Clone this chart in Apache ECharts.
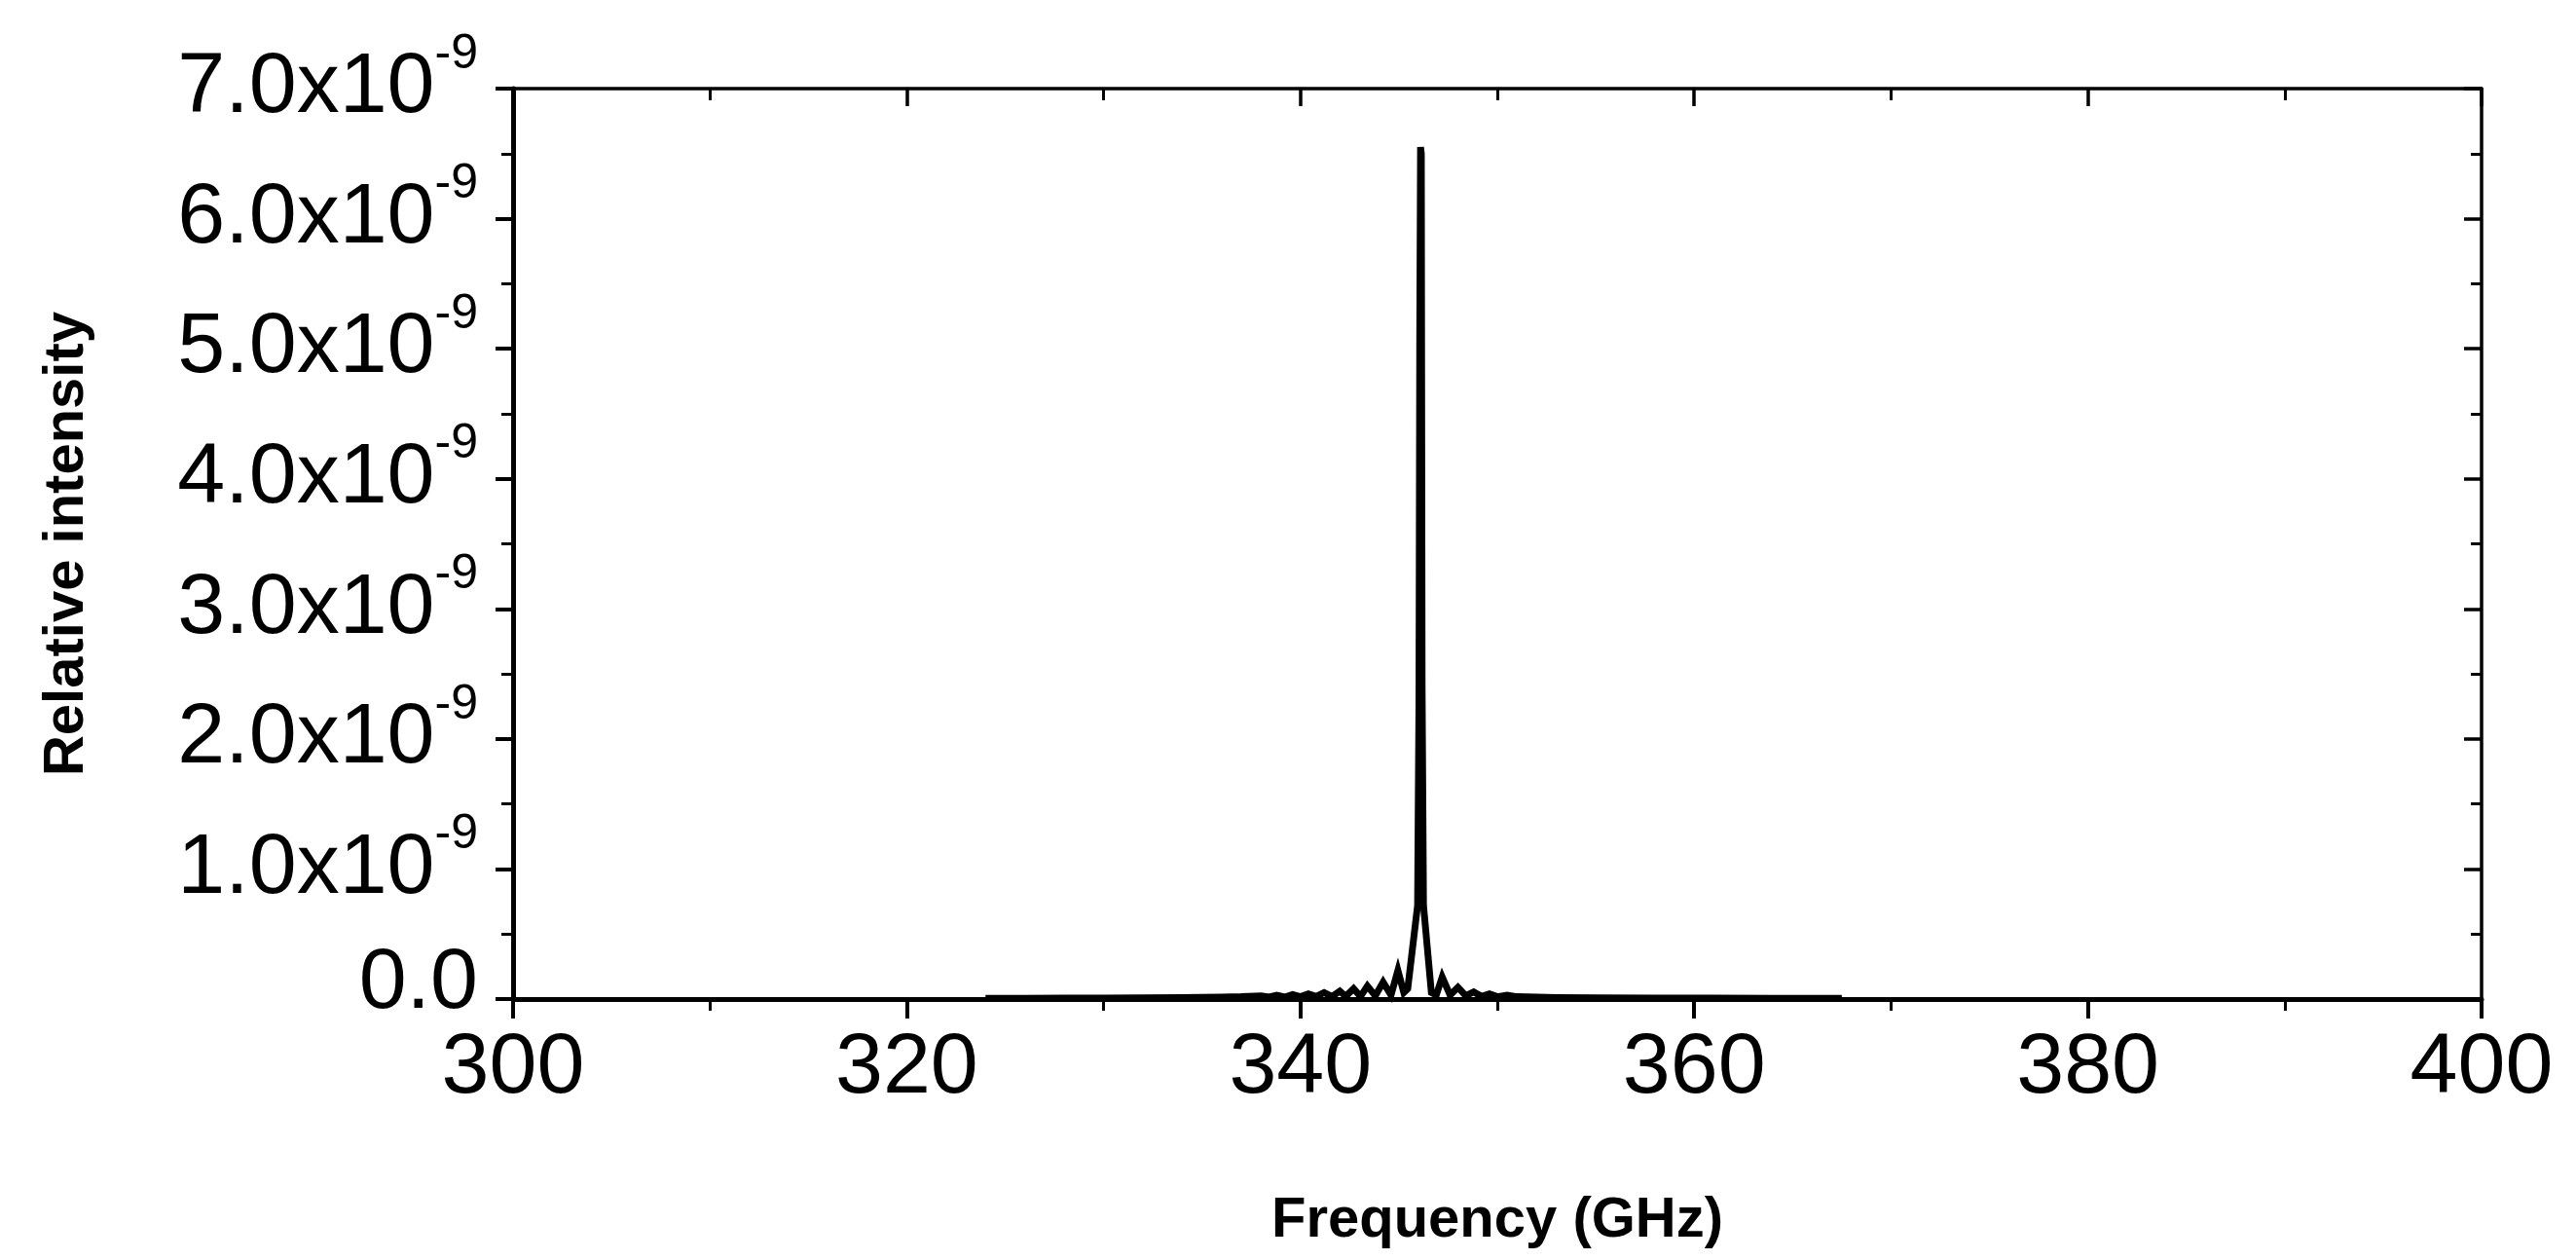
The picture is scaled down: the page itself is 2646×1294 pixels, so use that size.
<!DOCTYPE html>
<html>
<head>
<meta charset="utf-8">
<script src="https://cdn.jsdelivr.net/npm/echarts@6/dist/echarts.min.js"></script>
<style>
html,body{margin:0;padding:0;background:#fff;}
#chart{width:2646px;height:1294px;}
</style>
</head>
<body>
<div id="chart"></div>
<script>
// Frequency (GHz)
const frequency = [
  324.0, 326.0, 328.0, 330.0, 332.0, 334.0, 336.0, 337.0, 338.0, 338.4,
  338.8, 339.2, 339.6, 340.0, 340.4, 340.8, 341.2, 341.6, 342.0, 342.3,
  342.7, 343.05, 343.4, 343.8, 344.2, 344.6, 344.95, 345.25, 345.45, 345.95,
  346.02, 346.06, 346.1, 346.14, 346.18, 346.25, 346.65, 346.9, 347.2, 347.6,
  348.0, 348.4, 348.8, 349.2, 349.6, 350.0, 350.5, 351.0, 352.0, 353.0,
  355.0, 358.0, 361.0, 364.0, 367.5
];
// Relative intensity, in units of 1e-9
const intensity = [
  0.006, 0.006, 0.008, 0.008, 0.010, 0.012, 0.015, 0.018, 0.025, 0.015,
  0.030, 0.015, 0.035, 0.018, 0.040, 0.020, 0.050, 0.020, 0.060, 0.020,
  0.080, 0.020, 0.100, 0.025, 0.130, 0.030, 0.220, 0.050, 0.080, 0.720,
  2.300, 5.100, 6.550, 6.500, 2.400, 0.720, 0.050, 0.030, 0.170, 0.030,
  0.090, 0.025, 0.055, 0.020, 0.040, 0.018, 0.030, 0.018, 0.015, 0.012,
  0.010, 0.008, 0.007, 0.006, 0.005
];
const yTickLabels = ['0.0', '1.0', '2.0', '3.0', '4.0', '5.0', '6.0', '7.0'];
const xTickLabels = ['300', '320', '340', '360', '380', '400'];
const yExponent = '-9';
const xTitle = 'Frequency (GHz)';
const yTitle = 'Relative intensity';

const seriesData = frequency.map((f, i) => [f, intensity[i]]);

const FONT = "'Liberation Sans', Arial, sans-serif";
const chart = echarts.init(document.getElementById('chart'), null, {renderer: 'canvas'});

const axisCommon = {
  axisLine: {show: true, onZero: false, lineStyle: {color: '#000', width: 5}},
  splitLine: {show: false},
  minorSplitLine: {show: false}
};

chart.setOption({
  animation: false,
  backgroundColor: '#fff',
  grid: {left: 527, top: 91, width: 2022, height: 935, containLabel: false},
  xAxis: [
    Object.assign({}, axisCommon, {
      type: 'value', position: 'bottom', min: 300, max: 400, interval: 20,
      axisTick: {show: true, inside: false, length: 20, lineStyle: {color: '#000', width: 4}},
      minorTick: {show: true, splitNumber: 2, length: 12, lineStyle: {color: '#000', width: 3}},
      axisLabel: {
        show: true, margin: 28, color: '#000', fontFamily: FONT, fontSize: 88,
        formatter: function (v) { const i = Math.round((v - 300) / 20); return xTickLabels[i] !== undefined ? xTickLabels[i] : ''; }
      },
      name: xTitle, nameLocation: 'middle', nameGap: 199,
      nameTextStyle: {color: '#000', fontFamily: FONT, fontSize: 58, fontWeight: 'bold'}
    }),
    Object.assign({}, axisCommon, {
      type: 'value', position: 'top', min: 300, max: 400, interval: 20,
      axisLine: {show: true, onZero: false, lineStyle: {color: '#000', width: 3.5}},
      axisTick: {show: true, inside: true, length: 18, lineStyle: {color: '#000', width: 3.5}},
      minorTick: {show: true, splitNumber: 2, length: 12, lineStyle: {color: '#000', width: 3}},
      axisLabel: {show: false}
    })
  ],
  yAxis: [
    Object.assign({}, axisCommon, {
      type: 'value', position: 'left', min: 0, max: 7, interval: 1,
      axisTick: {show: true, inside: false, length: 18, lineStyle: {color: '#000', width: 4}},
      minorTick: {show: true, splitNumber: 2, length: 12, lineStyle: {color: '#000', width: 3}},
      axisLabel: {
        show: true, margin: 36, color: '#000', fontFamily: FONT,
        formatter: function (v) {
          const i = Math.round(v);
          if (i === 0) return '{z|' + yTickLabels[0] + '}';
          return '{m|' + yTickLabels[i] + 'x10}{s|' + yExponent + '}';
        },
        rich: {
          m: {fontFamily: FONT, fontSize: 88, lineHeight: 120, color: '#000', verticalAlign: 'middle'},
          s: {fontFamily: FONT, fontSize: 50, lineHeight: 50, color: '#000', verticalAlign: 'top'},
          z: {fontFamily: FONT, fontSize: 88, lineHeight: 88, color: '#000', padding: [0, 0, 30, 0]}
        }
      },
      name: yTitle, nameLocation: 'middle', nameGap: 429, nameRotate: 90,
      nameTextStyle: {color: '#000', fontFamily: FONT, fontSize: 58, fontWeight: 'bold'}
    }),
    Object.assign({}, axisCommon, {
      type: 'value', position: 'right', min: 0, max: 7, interval: 1,
      axisLine: {show: true, onZero: false, lineStyle: {color: '#000', width: 3.5}},
      axisTick: {show: true, inside: true, length: 18, lineStyle: {color: '#000', width: 3.5}},
      minorTick: {show: true, splitNumber: 2, length: 11, lineStyle: {color: '#000', width: 3}},
      axisLabel: {show: false}
    })
  ],
  series: [{
    type: 'line',
    xAxisIndex: 0, yAxisIndex: 0,
    data: seriesData,
    showSymbol: false,
    symbol: 'none',
    lineStyle: {color: '#000', width: 7, join: 'miter'},
    z: 1
  }]
});
</script>
</body>
</html>
